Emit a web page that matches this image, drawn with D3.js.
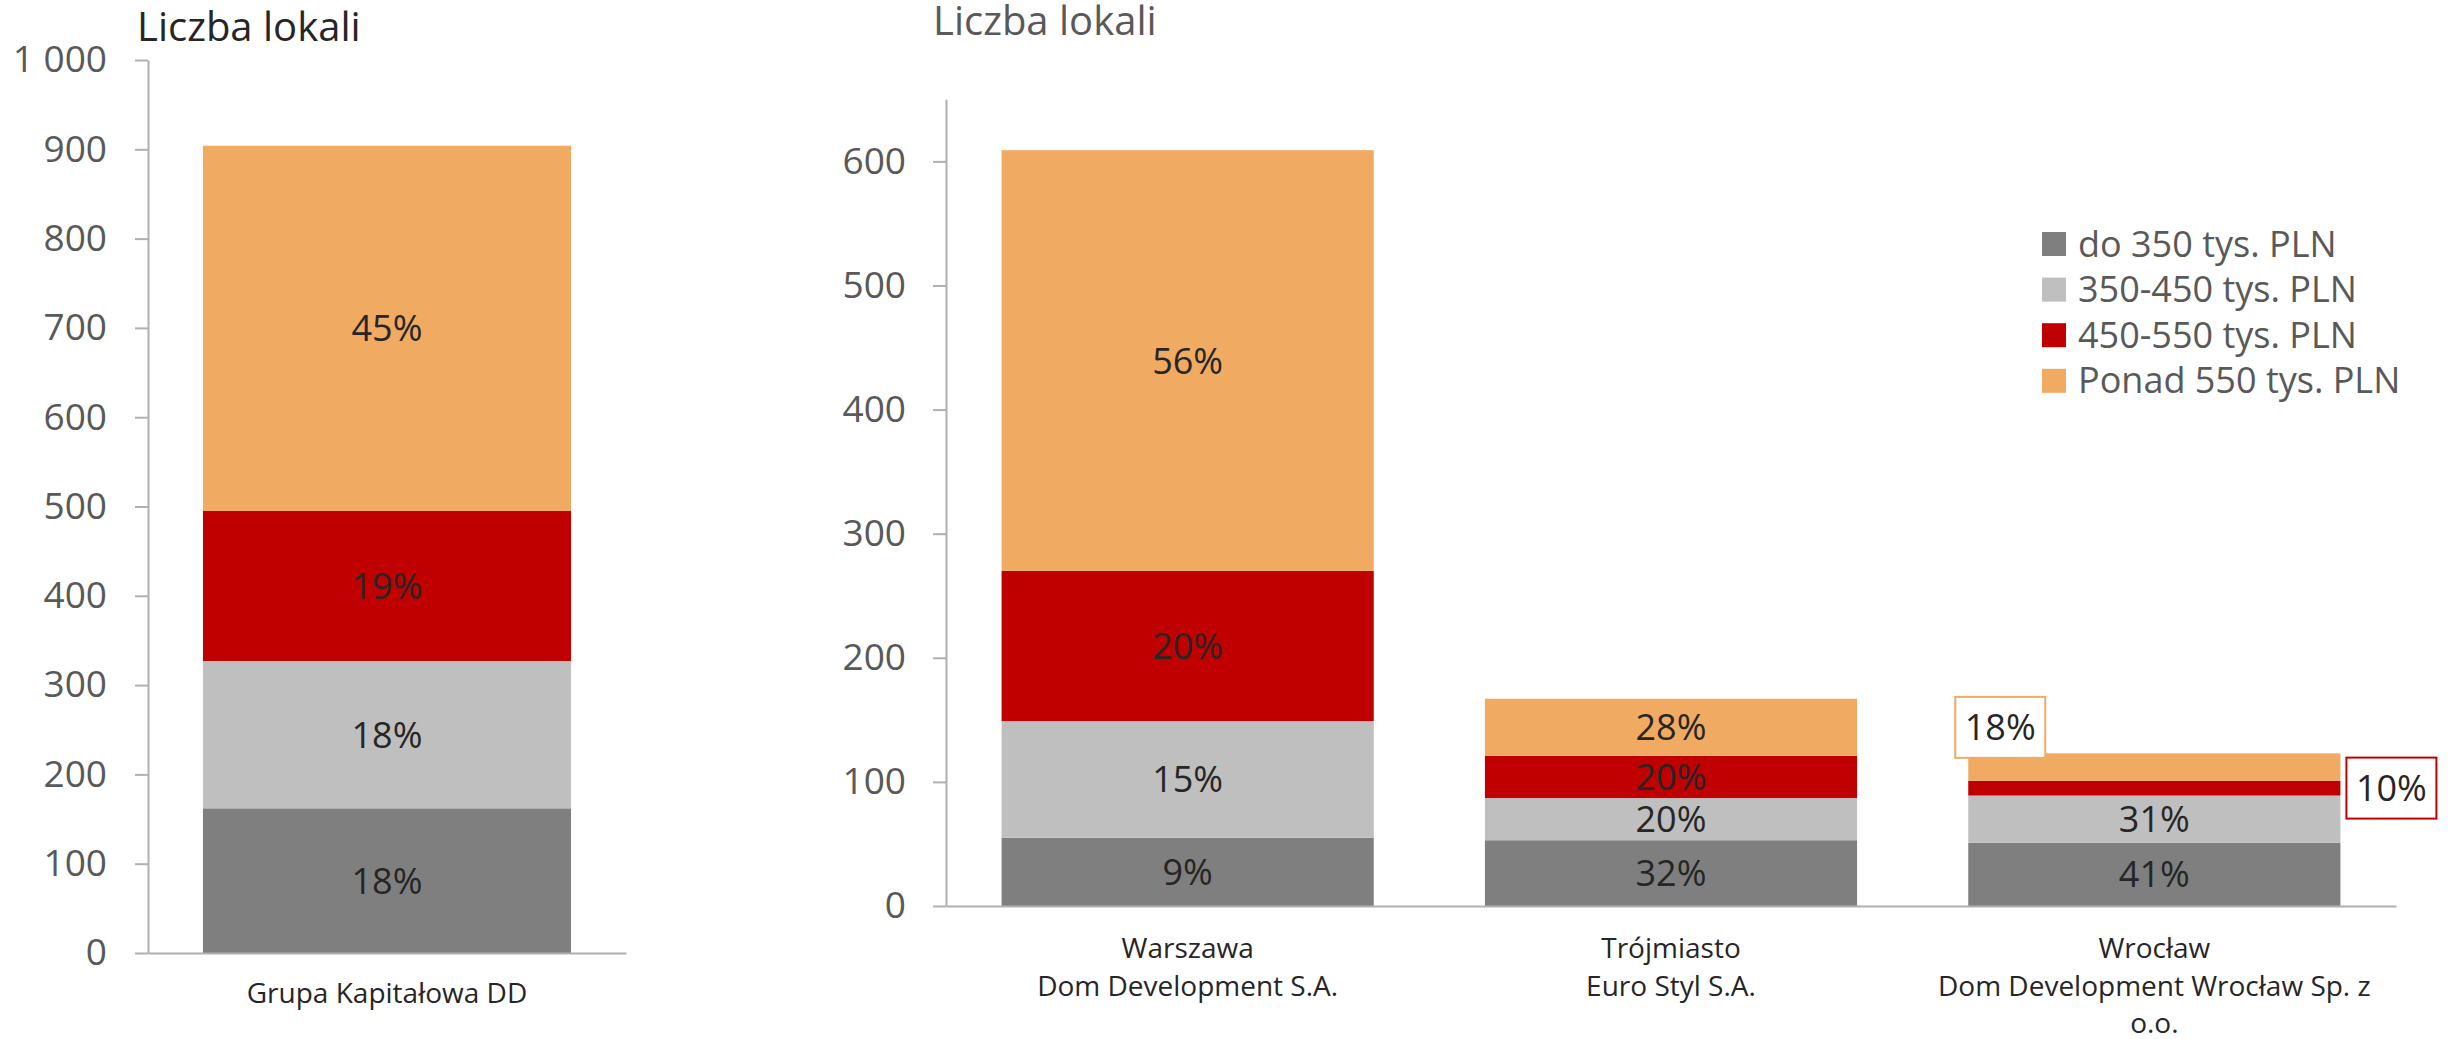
<!DOCTYPE html>
<html>
<head>
<meta charset="utf-8">
<title>Liczba lokali</title>
<script src="https://cdn.jsdelivr.net/npm/d3@7"></script>
<style>
body { margin: 0; background: #fff; }
svg text { font-family: "Open Sans", sans-serif; }
.axis path, .axis line { stroke: #b0b0b0; stroke-width: 2px; }
.axis text { fill: #595959; font-size: 37px; }
</style>
</head>
<body>
<svg id="chart" width="2453" height="1039"></svg>
<script>
// price ranges (stack order, bottom to top)
var series = ["do 350 tys. PLN", "350-450 tys. PLN", "450-550 tys. PLN", "Ponad 550 tys. PLN"];
var colors = ["#7f7f7f", "#bfbfbf", "#c00000", "#f0aa62"];

// left panel: whole group
var groupCats = ["Grupa Kapitałowa DD"];
var groupVals = [[162], [165], [168], [409]];
var groupTicks = [0, 100, 200, 300, 400, 500, 600, 700, 800, 900, 1000];

// right panel: by company
var cityCats = ["Warszawa\nDom Development S.A.", "Trójmiasto\nEuro Styl S.A.", "Wrocław\nDom Development Wrocław Sp. z\no.o."];
var cityVals = [[55, 53, 51], [94, 34, 38], [121, 34, 12], [339, 46, 22]];
var cityTicks = [0, 100, 200, 300, 400, 500, 600];

var svg = d3.select("#chart");
var pl = d3.formatLocale({decimal: ",", thousands: " ", grouping: [3], currency: ["", " zł"]});
var fmt = pl.format(",d");

function panel(cfg) {
    var rows = cfg.cats.map(function(c, i) {
        var r = {cat: c};
        series.forEach(function(s, j) { r[s] = cfg.vals[j][i]; });
        return r;
    });
    var stacked = d3.stack().keys(series)(rows);

    var x = d3.scaleBand().domain(cfg.cats).range([cfg.x0, cfg.x1])
        .paddingInner(0.23).paddingOuter(0.115);
    var y = d3.scaleLinear().domain([0, cfg.yMax]).range([cfg.y0, cfg.y1]);

    var g = svg.append("g");

    g.append("g").selectAll("g").data(stacked).join("g")
        .attr("fill", function(d, i) { return colors[i]; })
      .selectAll("rect").data(function(d) { return d; }).join("rect")
        .attr("x", function(d) { return x(d.data.cat); })
        .attr("y", function(d) { return y(d[1]); })
        .attr("width", x.bandwidth())
        .attr("height", function(d) { return y(d[0]) - y(d[1]); });

    g.append("g").attr("class", "axis")
        .attr("transform", "translate(" + cfg.x0 + ",0)")
        .call(d3.axisLeft(y).tickValues(cfg.ticks).tickFormat(fmt)
            .tickSize(13).tickSizeOuter(0).tickPadding(cfg.pad));

    g.append("g").attr("class", "axis")
        .attr("transform", "translate(0," + cfg.y0 + ")")
        .call(d3.axisBottom(x).tickSize(0).tickSizeOuter(0).tickFormat(""));

    // title
    g.append("text").attr("x", cfg.titleX).attr("y", cfg.titleY)
        .attr("font-size", 40).attr("fill", cfg.titleColor).text("Liczba lokali");

    // category labels
    cfg.cats.forEach(function(c) {
        var t = g.append("text")
            .attr("text-anchor", "middle")
            .attr("font-size", 28).attr("fill", "#262626");
        c.split("\n").forEach(function(line, k) {
            t.append("tspan")
                .attr("x", x(c) + x.bandwidth() / 2)
                .attr("y", cfg.y0 + cfg.labelOff + k * 37.5)
                .text(line);
        });
    });

    // percentage labels
    stacked.forEach(function(layer, si) {
        layer.forEach(function(d, ci) {
            var total = series.reduce(function(a, s) { return a + d.data[s]; }, 0);
            var pct = Math.round((d[1] - d[0]) / total * 100) + "%";
            var cx = x(d.data.cat) + x.bandwidth() / 2;
            var cy = (y(d[0]) + y(d[1])) / 2;
            var boxed = false;
            // thin segments of the last bar get callout boxes
            if (cfg.callouts && ci === cfg.cats.length - 1 && si >= 2) {
                boxed = true;
                if (si === 2) {
                    cx = x(d.data.cat) + x.bandwidth() + 51;
                } else {
                    cx = x(d.data.cat) + 32;
                    cy = y(d[1]) - 26;
                }
            }
            if (boxed) {
                g.append("rect")
                    .attr("x", cx - 45).attr("y", cy - 30.5)
                    .attr("width", 90).attr("height", 61)
                    .attr("fill", "#fff").attr("stroke", colors[si]).attr("stroke-width", 2);
            }
            g.append("text")
                .attr("x", cx).attr("y", cy).attr("dy", "0.36em")
                .attr("text-anchor", "middle")
                .attr("font-size", 36).attr("fill", "#262626")
                .text(pct);
        });
    });
}

panel({
    cats: groupCats, vals: groupVals, ticks: groupTicks, yMax: 1000,
    x0: 148, x1: 626, y0: 953, y1: 60, pad: 28,
    titleX: 137, titleY: 41, titleColor: "#262626", labelOff: 50
});

panel({
    cats: cityCats, vals: cityVals, ticks: cityTicks, yMax: 650,
    x0: 946, x1: 2396, y0: 906, y1: 99.3, pad: 27,
    titleX: 933, titleY: 35, titleColor: "#595959", labelOff: 52, callouts: true
});

// legend
var leg = svg.append("g").attr("transform", "translate(2042,232)");
var items = leg.selectAll("g").data(series).join("g")
    .attr("transform", function(d, i) { return "translate(0," + (i * 45.6) + ")"; });
items.append("rect").attr("width", 24).attr("height", 24)
    .attr("fill", function(d, i) { return colors[i]; });
items.append("text").attr("x", 36).attr("y", 12).attr("dy", "0.35em")
    .attr("font-size", 36).attr("fill", "#595959")
    .text(function(d) { return d; });
</script>
</body>
</html>
